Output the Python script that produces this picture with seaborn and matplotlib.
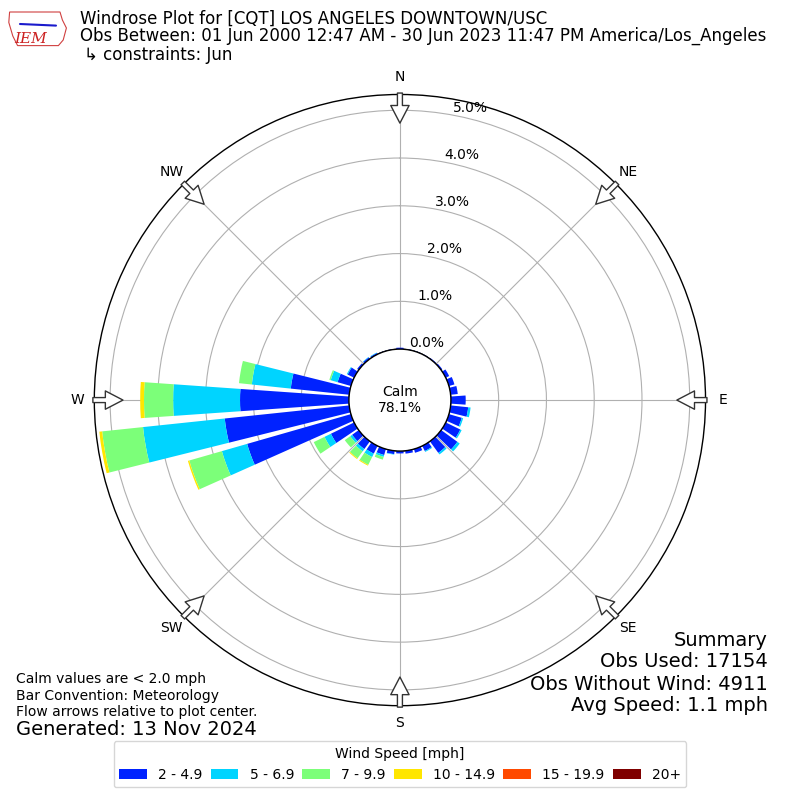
import numpy as np
import matplotlib
matplotlib.use("Agg")
import matplotlib.pyplot as plt
import seaborn as sns
from matplotlib.patches import Circle, Polygon

# Direction bins (degrees, meteorological convention)
directions = list(range(0, 360, 10))

# Frequency (%) per direction for each speed bin
spd_2_5 = [0.03, 0.01, 0.01, 0.01, 0.02, 0.03, 0.08, 0.12, 0.15, 0.31,
           0.37, 0.28, 0.34, 0.42, 0.30, 0.12, 0.08, 0.06, 0.05, 0.07,
           0.13, 0.18, 0.20, 0.17, 0.54, 2.26, 2.62, 2.28, 1.23, 0.29,
           0.15, 0.04, 0.04, 0.03, 0.01, 0.01]
spd_5_7 = [0, 0, 0, 0, 0, 0, 0, 0, 0, 0,
           0.05, 0.03, 0.03, 0.06, 0.04, 0.02, 0, 0, 0, 0.01,
           0.04, 0.08, 0.06, 0.05, 0.15, 0.55, 1.72, 1.40, 0.82, 0.15,
           0.02, 0, 0.01, 0.01, 0, 0]
spd_7_10 = [0, 0, 0, 0, 0, 0, 0, 0, 0, 0,
            0, 0, 0, 0, 0, 0, 0, 0, 0, 0,
            0.06, 0.18, 0.18, 0.14, 0.25, 0.71, 0.86, 0.61, 0.27, 0.03,
            0, 0, 0, 0, 0, 0]
spd_10_15 = [0, 0, 0, 0, 0, 0, 0, 0, 0, 0,
             0, 0, 0, 0, 0, 0, 0, 0, 0, 0,
             0, 0.02, 0.02, 0, 0, 0.03, 0.06, 0.08, 0, 0,
             0, 0, 0, 0, 0, 0]
spd_15_20 = [0] * 36
spd_20p = [0] * 36

speed_bins = [spd_2_5, spd_5_7, spd_7_10, spd_10_15, spd_15_20, spd_20p]
speed_labels = ["2 - 4.9", "5 - 6.9", "7 - 9.9", "10 - 14.9", "15 - 19.9", "20+"]
compass = ["N", "NE", "E", "SE", "S", "SW", "W", "NW"]
ring_values = [0, 1, 2, 3, 4, 5]

calm_pct = 78.1
rmax = 5.33
r_calm = 1.067

sns.set_style("white", rc={"text.color": "black", "axes.edgecolor": "black",
                           "xtick.color": "black", "ytick.color": "black",
                           "axes.labelcolor": "black"})
colors = sns.color_palette(["#0022ff", "#00d4ff", "#7cff79", "#ffe600", "#ff4a00", "#7f0000"])

fig = plt.figure(figsize=(8, 8), dpi=100)
ax = fig.add_axes([0.1179, 0.1179, 0.764, 0.764], projection="polar")
ax.set_theta_zero_location("N")
ax.set_theta_direction(-1)
ax.set_rorigin(-r_calm)
ax.set_ylim(0, rmax)

theta = np.radians(directions)
width = np.radians(8)
bottom = np.zeros(len(directions))
for vals, col, lab in zip(speed_bins, colors, speed_labels):
    vals = np.array(vals)
    ax.bar(theta, vals, width=width, bottom=bottom, color=col, label=lab,
           linewidth=0, zorder=3)
    bottom += vals

# grids
ax.set_yticks(ring_values)
ax.set_yticklabels([])
ax.set_xticks(np.radians(range(0, 360, 45)))
ax.set_xticklabels(compass, fontsize=10, color="black")
ax.tick_params(axis="x", pad=2)
ax.grid(True, color="#b0b0b0", linewidth=0.8)
ax.spines["polar"].set_linewidth(1.0)
ax.spines["polar"].set_color("black")
ax.set_facecolor("white")

for rv in ring_values:
    ax.text(np.radians(10.5), rv, f"{rv:.1f}%", ha="left", va="bottom",
            fontsize=10, zorder=5)

# calm circle
calm_frac = 0.5 * r_calm / (rmax + r_calm)
ax.add_patch(Circle((0.5, 0.5), calm_frac, transform=ax.transAxes,
                    facecolor="white", edgecolor="black", linewidth=1.0,
                    zorder=6, clip_on=False))
ax.text(0.5, 0.5, f"Calm\n{calm_pct:.1f}%", transform=ax.transAxes,
        ha="center", va="center", fontsize=10, zorder=7)

# flow arrows
for ang in range(0, 360, 45):
    t = np.radians(ang)
    ax.annotate("", xy=(t, 4.73), xytext=(t, 5.36), annotation_clip=False,
                arrowprops=dict(arrowstyle="simple,head_length=1.27,head_width=1.32,tail_width=0.36",
                                mutation_scale=10, fc="white", ec="#333333",
                                lw=1.0, shrinkA=0, shrinkB=0),
                zorder=8)

# header
fig.text(0.1, 0.976, "Windrose Plot for [CQT] LOS ANGELES DOWNTOWN/USC",
         fontsize=12, ha="left", va="center")
fig.text(0.1, 0.955, "Obs Between: 01 Jun 2000 12:47 AM - 30 Jun 2023 11:47 PM America/Los_Angeles",
         fontsize=12, ha="left", va="center")
fig.text(0.105, 0.931, "\u21b3 constraints: Jun", fontsize=12, ha="left", va="center")

# IEM logo (rough)
logo = Polygon([(0.012, 0.985), (0.075, 0.985), (0.078, 0.975), (0.083, 0.965),
                (0.079, 0.95), (0.073, 0.943), (0.022, 0.943), (0.016, 0.955),
                (0.011, 0.972)], closed=True, transform=fig.transFigure,
               fill=False, edgecolor="#d04040", linewidth=0.8)
fig.patches.append(logo)
fig.lines.append(plt.Line2D([0.025, 0.07], [0.97, 0.968], transform=fig.transFigure,
                            color="#1a1acc", linewidth=1.5))
fig.text(0.038, 0.951, "IEM", fontsize=11, color="#cc2020", family="serif",
         style="italic", ha="center", va="center")

# footer notes
fig.text(0.02, 0.151, "Calm values are < 2.0 mph", fontsize=10, ha="left", va="center")
fig.text(0.02, 0.130, "Bar Convention: Meteorology", fontsize=10, ha="left", va="center")
fig.text(0.02, 0.110, "Flow arrows relative to plot center.", fontsize=10, ha="left", va="center")
fig.text(0.02, 0.088, "Generated: 13 Nov 2024", fontsize=14, ha="left", va="center")

fig.text(0.96, 0.200, "Summary", fontsize=14, ha="right", va="center")
fig.text(0.96, 0.173, "Obs Used: 17154", fontsize=14, ha="right", va="center")
fig.text(0.96, 0.145, "Obs Without Wind: 4911", fontsize=14, ha="right", va="center")
fig.text(0.96, 0.118, "Avg Speed: 1.1 mph", fontsize=14, ha="right", va="center")

handles, labels = ax.get_legend_handles_labels()
fig.legend(handles, labels, loc="lower center", bbox_to_anchor=(0.5, 0.007),
           ncol=6, fontsize=10, title="Wind Speed [mph]", title_fontsize=10,
           frameon=True, handlelength=2.0, columnspacing=0.6)

fig.savefig("out.png", dpi=100)
